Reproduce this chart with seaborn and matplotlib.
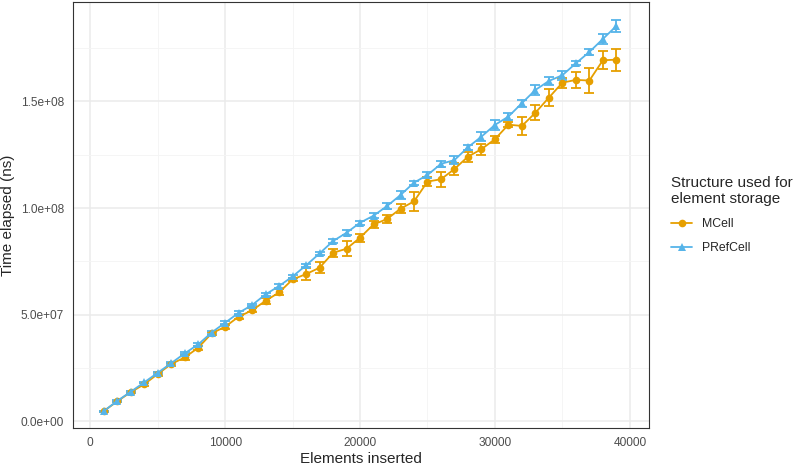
import numpy as np
import pandas as pd
import seaborn as sns
import matplotlib.pyplot as plt

# Elements inserted (x) and mean time elapsed in ns (in millions)
elements = list(range(1000, 40000, 1000))

mcell_mean = [4.7, 9.3, 13.6, 17.3, 22.1, 26.8, 29.9, 34.4, 41.2, 44.3,
              49.0, 52.0, 56.5, 60.4, 66.5, 69.0, 72.0, 79.0, 80.9, 86.1,
              92.3, 94.8, 99.7, 103.1, 112.4, 113.5, 118.3, 124.1, 127.6, 132.3,
              139.1, 138.5, 144.7, 151.8, 158.8, 160.1, 159.8, 169.3, 169.6]
mcell_err = [0.3, 0.4, 0.5, 0.7, 0.8, 0.7, 1.2, 1.0, 0.8, 1.0,
             0.9, 1.0, 1.4, 1.4, 0.8, 3.0, 2.7, 2.0, 3.4, 1.9,
             1.5, 1.8, 2.0, 4.4, 2.0, 3.5, 2.7, 2.3, 2.5, 1.6,
             1.1, 4.1, 3.5, 3.8, 2.3, 3.8, 5.9, 4.3, 5.2]

prefcell_mean = [4.7, 9.5, 13.8, 18.2, 22.7, 27.2, 31.8, 36.0, 41.6, 46.2,
                 50.8, 54.5, 59.5, 63.4, 67.9, 73.1, 78.7, 84.5, 88.4, 93.1,
                 96.4, 100.9, 106.1, 111.9, 115.5, 120.7, 122.5, 128.5, 133.5, 139.0,
                 142.9, 149.2, 155.4, 159.6, 162.3, 167.9, 173.2, 179.3, 185.4]
prefcell_err = [0.3, 0.3, 0.4, 0.4, 0.5, 0.5, 0.5, 0.6, 0.6, 0.6,
                0.7, 0.6, 0.7, 0.8, 0.8, 0.8, 0.8, 1.0, 1.2, 0.9,
                1.1, 1.3, 2.0, 1.0, 1.5, 1.3, 1.7, 1.2, 2.2, 2.3,
                1.5, 1.7, 2.3, 1.8, 2.2, 1.0, 1.4, 2.3, 3.0]

structures = ["MCell", "PRefCell"]
colors = {"MCell": "#E69F00", "PRefCell": "#56B4E9"}
markers = {"MCell": "o", "PRefCell": "^"}

df = pd.concat([
    pd.DataFrame({"elements": elements, "time": np.array(mcell_mean) * 1e6,
                  "err": np.array(mcell_err) * 1e6, "structure": "MCell"}),
    pd.DataFrame({"elements": elements, "time": np.array(prefcell_mean) * 1e6,
                  "err": np.array(prefcell_err) * 1e6, "structure": "PRefCell"}),
])

sns.set_style("white")
plt.rcParams["font.family"] = ["Liberation Sans", "DejaVu Sans"]

fig, ax = plt.subplots(figsize=(7.96, 4.68), dpi=100)
fig.subplots_adjust(left=0.092, right=0.815, top=0.996, bottom=0.085)

# error bars first, lines and points on top
for s in structures:
    d = df[df["structure"] == s]
    ax.errorbar(d["elements"], d["time"], yerr=d["err"], fmt="none",
                ecolor=colors[s], elinewidth=1.3, capsize=3.5, capthick=1.3, zorder=2)

sns.lineplot(data=df, x="elements", y="time", hue="structure", style="structure",
             hue_order=structures, style_order=structures,
             palette=colors, markers=markers, dashes=False,
             markersize=5.5, markeredgewidth=0, linewidth=1.3, ax=ax, zorder=3)

ax.set_xlim(-1260, 41400)
ax.set_ylim(-3.3e6, 1.967e8)
ax.set_xticks([0, 10000, 20000, 30000, 40000])
ax.set_yticks([0, 5e7, 1e8, 1.5e8])
ax.set_yticklabels(["0.0e+00", "5.0e+07", "1.0e+08", "1.5e+08"])
ax.set_xticks([5000, 15000, 25000, 35000], minor=True)
ax.set_yticks([2.5e7, 7.5e7, 1.25e8, 1.75e8], minor=True)

ax.grid(True, which="major", color="#EBEBEB", linewidth=1.1, zorder=0)
ax.grid(True, which="minor", color="#F4F4F4", linewidth=0.6, zorder=0)
ax.set_axisbelow(True)
for sp in ax.spines.values():
    sp.set_color("#333333")
    sp.set_linewidth(0.8)
ax.tick_params(which="major", direction="out", length=3.5, width=0.8, color="#333333",
               labelcolor="#4D4D4D", labelsize=8.6, pad=3)
ax.tick_params(which="minor", length=0)

ax.set_xlabel("Elements inserted", fontsize=11, labelpad=2)
ax.set_ylabel("Time elapsed (ns)", fontsize=11, labelpad=4)

sns.move_legend(ax, "center left", bbox_to_anchor=(1.02, 0.5), frameon=False,
                title="Structure used for\nelement storage", title_fontsize=11,
                fontsize=8.8, alignment="left", handlelength=1.7, labelspacing=1.0)

fig.savefig("out.png", dpi=100)
